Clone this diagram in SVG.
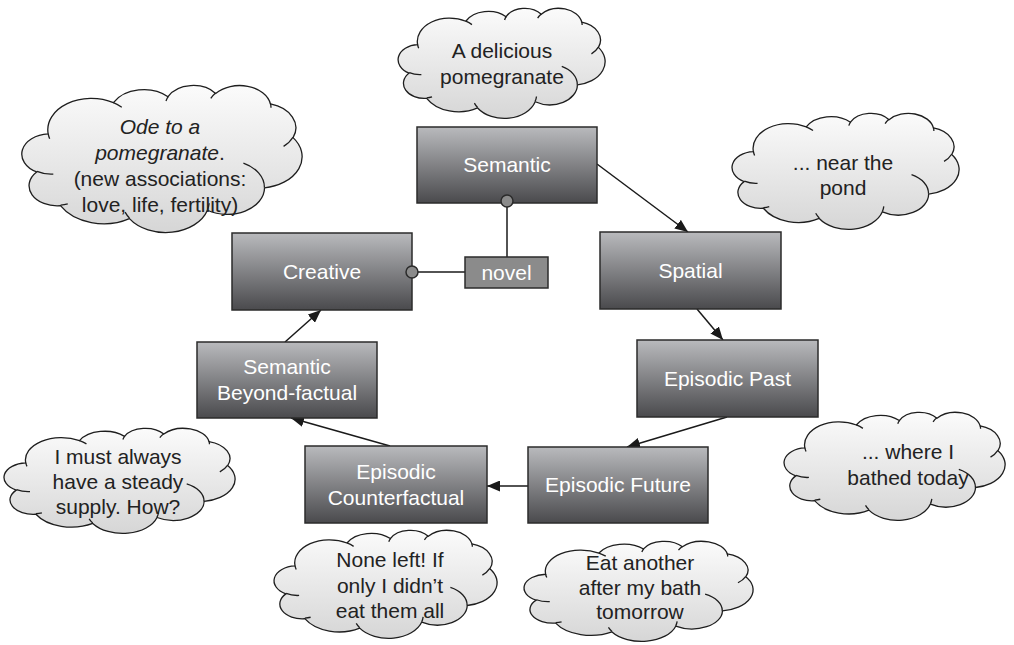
<svg xmlns="http://www.w3.org/2000/svg" xmlns:xlink="http://www.w3.org/1999/xlink" width="1014" height="645" viewBox="0 0 1014 645">
  <defs>
    <linearGradient id="boxFill" x1="0" y1="0" x2="0" y2="1">
      <stop offset="0" stop-color="#b9babd"/>
      <stop offset="1" stop-color="#4a4a4d"/>
    </linearGradient>
    <linearGradient id="cloudFill" x1="0" y1="0" x2="0" y2="1">
      <stop offset="0" stop-color="#fbfbfb"/>
      <stop offset="1" stop-color="#d6d6d6"/>
    </linearGradient>
    <marker id="arrow" markerWidth="13" markerHeight="11" refX="13" refY="5.5" orient="auto" markerUnits="userSpaceOnUse">
      <path d="M0,0 L13,5.5 L0,11 z" fill="#1a1a1a"/>
    </marker>
    <!-- thought cloud in a 432 x 432 frame: outline plus the inner fold strokes -->
    <g id="cloud">
      <path class="cloud-body" d="M 39 143.7 A 67.53 91.9 0 0 1 140.05 52.02 A 53.33 72.67 0 0 1 224.55 34.32 A 43.65 59.45 0 0 1 298.33 24.82 A 48.57 65.95 0 0 1 383.18 55.76 A 53.33 72.73 0 0 1 418.19 154.6 A 67.75 92.2 0 0 1 374.04 302.02 A 57.85 78.67 0 0 1 285.56 368.13 A 67.52 92.15 0 0 1 164.82 392.65 A 77.2 105.43 0 0 1 58.05 354.73 A 43.6 59.18 0 0 1 21.14 255.51 A 43.45 59.45 0 0 1 39 143.7 Z"/>
      <path class="cloud-fold" d="M 46.93 261.77 A 43.45 59.45 0 0 1 21.6 253.8 M 69.28 348.99 A 43.6 59.18 0 0 1 58.2 352.81 M 164.78 390.9 A 67.52 92.15 0 0 1 158.09 373.47 M 288.27 347.51 A 67.52 92.15 0 0 1 285.6 366.6 M 341.29 229.54 A 57.85 78.67 0 0 1 373.81 300.9 M 417.98 153.54 A 53.33 72.73 0 0 1 403.5 180.3 M 383.24 54.26 A 48.57 65.95 0 0 1 384 66.9 M 290.78 39.52 A 48.57 65.95 0 0 1 298.19 23.42 M 221.41 47.2 A 43.65 59.45 0 0 1 225 33.3 M 140 51.92 A 67.53 91.9 0 0 1 153 65.4 M 41.27 157.89 A 67.53 91.9 0 0 1 39 143.7"/>
    </g>
  </defs>
  <style>
    .box { fill: url(#boxFill); stroke: #2b2b2b; stroke-width: 1.5; }
    .tag { fill: #8b8b8b; stroke: #2b2b2b; stroke-width: 1.5; }
    .box-label { font-family: "Liberation Sans", Arial, sans-serif; font-size: 21px; fill: #ffffff; text-anchor: middle; }
    .cloud-body { fill: url(#cloudFill); stroke: #1e1e1e; stroke-width: 1.3; vector-effect: non-scaling-stroke; }
    .cloud-fold { fill: none; stroke: #1e1e1e; stroke-width: 1.3; vector-effect: non-scaling-stroke; }
    .cloud-text { font-family: "Liberation Sans", Arial, sans-serif; font-size: 21px; fill: #222222; text-anchor: middle; }
    .link { stroke: #1a1a1a; stroke-width: 1.5; fill: none; }
    .flow { stroke: #1a1a1a; stroke-width: 1.5; fill: none; marker-end: url(#arrow); }
    .knob { fill: #8b8b8b; stroke: #2b2b2b; stroke-width: 1.5; }
  </style>

  <!-- thought clouds -->
  <g id="cloud-delicious">
    <use xlink:href="#cloud" transform="translate(399,8) scale(0.4769,0.2546)"/>
    <text class="cloud-text" x="502" y="58">A delicious</text>
    <text class="cloud-text" x="502" y="84">pomegranate</text>
  </g>
  <g id="cloud-ode">
    <use xlink:href="#cloud" transform="translate(23,85) scale(0.6458,0.3403)"/>
    <text class="cloud-text" x="160" y="134" font-style="italic">Ode to a</text>
    <text class="cloud-text" x="160" y="160"><tspan font-style="italic">pomegranate</tspan>.</text>
    <text class="cloud-text" x="160" y="186">(new associations:</text>
    <text class="cloud-text" x="160" y="212">love, life, fertility)</text>
  </g>
  <g id="cloud-pond">
    <use xlink:href="#cloud" transform="translate(733,113) scale(0.5231,0.2685)"/>
    <text class="cloud-text" x="843" y="170">... near the</text>
    <text class="cloud-text" x="843" y="195">pond</text>
  </g>
  <g id="cloud-bathed">
    <use xlink:href="#cloud" transform="translate(785,412) scale(0.5093,0.25)"/>
    <text class="cloud-text" x="908" y="459">... where I</text>
    <text class="cloud-text" x="908" y="485">bathed today</text>
  </g>
  <g id="cloud-supply">
    <use xlink:href="#cloud" transform="translate(5,428) scale(0.5324,0.2431)"/>
    <text class="cloud-text" x="118" y="464">I must always</text>
    <text class="cloud-text" x="118" y="489">have a steady</text>
    <text class="cloud-text" x="118" y="514">supply. How?</text>
  </g>
  <g id="cloud-none-left">
    <use xlink:href="#cloud" transform="translate(275,530) scale(0.5139,0.25)"/>
    <text class="cloud-text" x="390" y="567">None left! If</text>
    <text class="cloud-text" x="390" y="593">only I didn’t</text>
    <text class="cloud-text" x="390" y="618">eat them all</text>
  </g>
  <g id="cloud-eat-another">
    <use xlink:href="#cloud" transform="translate(525,541) scale(0.5278,0.2315)"/>
    <text class="cloud-text" x="640" y="570">Eat another</text>
    <text class="cloud-text" x="640" y="595">after my bath</text>
    <text class="cloud-text" x="640" y="619">tomorrow</text>
  </g>

  <!-- connectors -->
  <g id="connectors">
    <line class="link" x1="507" y1="207" x2="507" y2="257"/>
    <line class="link" x1="418" y1="272" x2="465" y2="272"/>
    <line class="flow" x1="597" y1="164" x2="688" y2="232"/>
    <line class="flow" x1="697" y1="309" x2="723" y2="340"/>
    <line class="flow" x1="727" y1="417" x2="627" y2="447"/>
    <line class="flow" x1="528" y1="486" x2="487" y2="486"/>
    <line class="flow" x1="390" y1="446" x2="291" y2="418"/>
    <line class="flow" x1="285" y1="342" x2="321" y2="310"/>
  </g>

  <!-- memory modes -->
  <g id="node-semantic">
    <rect class="box" x="417" y="127" width="180" height="76"/>
    <text class="box-label" x="507" y="172">Semantic</text>
  </g>
  <g id="node-creative">
    <rect class="box" x="232" y="233" width="180" height="77"/>
    <text class="box-label" x="322" y="279">Creative</text>
  </g>
  <g id="node-novel">
    <rect class="tag" x="465" y="257" width="83" height="31"/>
    <text class="box-label" x="506.5" y="280">novel</text>
  </g>
  <g id="node-spatial">
    <rect class="box" x="600" y="232" width="181" height="77"/>
    <text class="box-label" x="690.5" y="278">Spatial</text>
  </g>
  <g id="node-episodic-past">
    <rect class="box" x="637" y="340" width="181" height="77"/>
    <text class="box-label" x="727.5" y="386">Episodic Past</text>
  </g>
  <g id="node-episodic-future">
    <rect class="box" x="528" y="447" width="180" height="76"/>
    <text class="box-label" x="618" y="492">Episodic Future</text>
  </g>
  <g id="node-episodic-counterfactual">
    <rect class="box" x="305" y="446" width="182" height="77"/>
    <text class="box-label" x="396" y="479">Episodic</text>
    <text class="box-label" x="396" y="505">Counterfactual</text>
  </g>
  <g id="node-semantic-beyond">
    <rect class="box" x="197" y="342" width="180" height="76"/>
    <text class="box-label" x="287" y="374">Semantic</text>
    <text class="box-label" x="287" y="400">Beyond-factual</text>
  </g>

  <!-- link knobs -->
  <g id="knobs">
    <circle class="knob" cx="507" cy="201" r="6"/>
    <circle class="knob" cx="412" cy="272" r="6"/>
  </g>
</svg>
